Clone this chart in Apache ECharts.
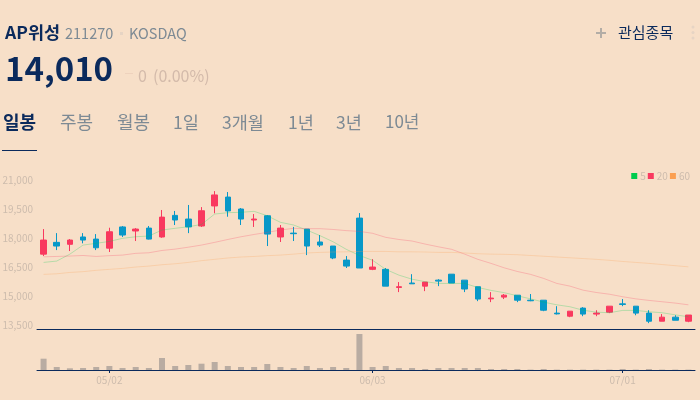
<!DOCTYPE html>
<html>
<head>
<meta charset="utf-8">
<style>
	html, body { margin: 0; padding: 0; background: #f7dfc8; }
	#chart { width: 700px; height: 400px; }
</style>
<script src="https://cdn.jsdelivr.net/npm/echarts@6/dist/echarts.min.js"></script>
</head>
<body>
<div id="chart"></div>
<script>
const dates = [
	'04/24', '04/25', '04/26', '04/29', '04/30', '05/02', '05/03', '05/07', '05/08', '05/09',
	'05/10', '05/13', '05/14', '05/16', '05/17', '05/20', '05/21', '05/22', '05/23', '05/24',
	'05/27', '05/28', '05/29', '05/30', '05/31', '06/03', '06/04', '06/05', '06/07', '06/10',
	'06/11', '06/12', '06/13', '06/14', '06/17', '06/18', '06/19', '06/20', '06/21', '06/24',
	'06/25', '06/26', '06/27', '06/28', '07/01', '07/02', '07/03', '07/04', '07/05', '07/08',
]
const dateTicks = ['05/02', '06/03', '07/01']
const priceTicks = [13500, 15000, 16500, 18000, 19500, 21000]

const opens = [
	17170, 17780, 17680, 18060, 17950, 17480, 18580, 18370, 18520, 18060,
	19180, 18990, 18630, 19670, 20130, 19510, 18940, 19160, 18060, 18260,
	18470, 17800, 17590, 16860, 19040, 16380, 16380, 15440, 15670, 15510,
	15820, 16130, 15820, 15480, 14850, 14940, 15040, 14780, 14780, 14110,
	13950, 14370, 14060, 14160, 14590, 14470, 14110, 13690, 13900, 13690,
]
const closes = [
	17900, 17590, 17900, 17900, 17500, 18330, 18160, 18470, 17950, 19090,
	18940, 18580, 19420, 20240, 19410, 18990, 18990, 18210, 18520, 18230,
	17590, 17640, 16970, 16550, 16450, 16500, 15510, 15480, 15630, 15720,
	15770, 15670, 15360, 14840, 14890, 15040, 14780, 14750, 14260, 14070,
	14210, 14060, 14110, 14470, 14560, 14110, 13690, 13900, 13740, 14010,
]
const lows = [
	17070, 17380, 17330, 17730, 17380, 17280, 18060, 17850, 17930, 18020,
	18680, 18260, 18580, 19290, 19110, 18680, 18580, 17590, 17800, 17850,
	17120, 17540, 16910, 16450, 16450, 16340, 15510, 15200, 15620, 15250,
	15510, 15670, 15200, 14730, 14680, 14840, 14680, 14730, 14210, 14040,
	13900, 13950, 13950, 14110, 14470, 14000, 13590, 13690, 13740, 13640,
]
const highs = [
	18470, 18260, 17950, 18260, 18210, 18540, 18630, 18520, 18630, 19460,
	19410, 19720, 19610, 20440, 20390, 19560, 19250, 19200, 18680, 18580,
	18470, 18160, 17590, 17070, 19300, 16910, 16450, 15720, 16130, 15720,
	15870, 16130, 15820, 15480, 15200, 15100, 15040, 15100, 14780, 14470,
	14210, 14420, 14260, 14470, 14840, 14470, 14260, 14060, 14000, 14010,
]
const ma5 = [
	16740, 16810, 17170, 17640, 17730, 17830, 17990, 18070, 18110, 18420,
	18510, 18590, 18710, 19250, 19320, 19340, 19390, 19160, 18820, 18680,
	18420, 18130, 17810, 17420, 17100, 16850, 16380, 16080, 15870, 15740,
	15650, 15650, 15650, 15440, 15290, 15170, 15010, 14850, 14680, 14540,
	14440, 14260, 14160, 14130, 14250, 14250, 14180, 14130, 14020, 13920,
]
const ma20 = [
	17030, 17050, 17070, 17100, 17050, 17090, 17120, 17210, 17240, 17360,
	17430, 17530, 17640, 17780, 17930, 18070, 18190, 18300, 18420, 18510,
	18490, 18490, 18450, 18390, 18350, 18250, 18040, 17930, 17850, 17690,
	17550, 17420, 17170, 16900, 16690, 16460, 16270, 16120, 15910, 15650,
	15510, 15300, 15180, 15090, 14960, 14850, 14770, 14700, 14630, 14540,
]
const ma60 = [
	16120, 16150, 16220, 16260, 16330, 16380, 16430, 16500, 16550, 16620,
	16670, 16740, 16830, 16900, 16970, 17020, 17050, 17090, 17120, 17170,
	17230, 17260, 17280, 17290, 17310, 17310, 17310, 17290, 17290, 17280,
	17260, 17260, 17230, 17190, 17170, 17160, 17140, 17100, 17060, 17020,
	16980, 16940, 16900, 16850, 16790, 16740, 16690, 16630, 16570, 16510,
]
const volumes = [
	113, 30, 17, 20, 30, 40, 20, 30, 20, 120,
	40, 50, 63, 80, 40, 30, 30, 60, 30, 20,
	40, 20, 30, 20, 360, 30, 40, 20, 20, 10,
	20, 20, 20, 20, 10, 10, 10, 4, 10, 4,
	4, 4, 4, 4, 10, 4, 10, 4, 4, 4,
]

const navy = '#0b2a5c'
const faint = '#cdbcad'
const tabGrey = '#7d8a94'
const uiFont = '"Noto Sans CJK KR", "Noto Sans", sans-serif'

const label = (text, x, y, size, fill, weight = 'normal') => ({
	type: 'text',
	x,
	y,
	silent: true,
	style: { text, fill, font: `${weight} ${size}px ${uiFont}`, textVerticalAlign: 'middle' },
})

const box = (x, y, width, height, fill) => ({
	type: 'rect',
	silent: true,
	shape: { x, y, width, height },
	style: { fill },
})

const dot = (cx, cy) => ({
	type: 'circle',
	silent: true,
	shape: { cx, cy, r: 1.5 },
	style: { fill: '#e6d4c4' },
})

const header = [
	label('AP위성', 5, 32, 17.5, navy, 'bold'),
	label('211270', 65, 33, 14.5, tabGrey),
	box(120, 32, 3, 3, '#e6d4c4'),
	label('KOSDAQ', 129, 33, 14.5, tabGrey),
	label('14,010', 5, 68, 33, navy, 'bold'),
	box(125, 73, 8, 1, '#eed2bd'),
	label('0', 138, 76, 16, '#d3baaa'),
	label('(0.00%)', 153, 76, 16, '#d3baaa'),
	label('일봉', 3, 122, 18, navy, 'bold'),
	label('주봉', 60, 122, 18, tabGrey),
	label('월봉', 117, 122, 18, tabGrey),
	label('1일', 173, 122, 17.5, tabGrey),
	label('3개월', 222, 122, 17.5, tabGrey),
	label('1년', 288, 122, 17.5, tabGrey),
	label('3년', 336, 122, 17.5, tabGrey),
	label('10년', 385, 122, 17, tabGrey),
	box(596, 32, 10, 2, '#b3ada6'),
	box(600, 28, 2, 10, '#b3ada6'),
	label('관심종목', 618, 32, 15, navy),
	dot(693, 27),
	dot(693, 32.5),
	dot(693, 38),
	box(2, 150, 35, 1, navy),
]

const maLine = (name, data, color) => ({
	name,
	type: 'line',
	data,
	symbol: 'none',
	smooth: false,
	itemStyle: { color },
	lineStyle: { color, width: 1, opacity: 0.26 },
})

const myChart = echarts.init(document.getElementById('chart'))

const option = {
	animation: false,
	backgroundColor: '#f7dfc8',
	textStyle: { fontFamily: uiFont },
	graphic: header,
	legend: {
		top: 166,
		right: 5,
		itemWidth: 6,
		itemHeight: 6,
		itemGap: 2,
		icon: 'rect',
		data: ['5', '20', '60'],
		textStyle: { color: faint, fontSize: 10, padding: [0, 0, 0, -2] },
	},
	grid: [
		{ left: 37, right: 5, top: 180.3, height: 149.2, outerBoundsMode: 'none' },
		{ left: 37, right: 5, top: 329.5, height: 40.5, outerBoundsMode: 'none' },
	],
	xAxis: [
		{
			type: 'category',
			gridIndex: 0,
			data: dates,
			axisLine: { lineStyle: { color: navy, width: 1 } },
			axisTick: { show: false },
			axisLabel: { show: false },
		},
		{
			type: 'category',
			gridIndex: 1,
			data: dates,
			axisLine: { lineStyle: { color: navy, width: 1 } },
			axisTick: {
				show: true,
				alignWithLabel: true,
				length: 3,
				lineStyle: { color: navy },
				customValues: dateTicks.map((d) => dates.indexOf(d)),
			},
			axisLabel: {
				color: faint,
				fontSize: 10,
				margin: 5,
				interval: (i, v) => dateTicks.includes(v),
			},
		},
	],
	yAxis: [
		{
			type: 'value',
			gridIndex: 0,
			min: 13260,
			max: 21000,
			axisLine: { show: false },
			axisTick: { show: false },
			splitLine: { show: false },
			axisLabel: {
				color: faint,
				fontSize: 10,
				margin: 4,
				customValues: priceTicks,
				formatter: (v) => v.toLocaleString('en-US'),
			},
		},
		{
			type: 'value',
			gridIndex: 1,
			min: 0,
			max: 405,
			show: false,
		},
	],
	series: [
		{
			name: 'price',
			type: 'candlestick',
			xAxisIndex: 0,
			yAxisIndex: 0,
			barWidth: 6,
			data: dates.map((d, i) => [opens[i], closes[i], lows[i], highs[i]]),
			itemStyle: {
				color: '#f9395f',
				color0: '#0898c8',
				borderColor: '#f9395f',
				borderColor0: '#0898c8',
				borderWidth: 1,
			},
		},
		maLine('5', ma5, '#00cc4e'),
		maLine('20', ma20, '#f9395f'),
		maLine('60', ma60, '#fb9f50'),
		{
			name: 'volume',
			type: 'bar',
			xAxisIndex: 1,
			yAxisIndex: 1,
			barWidth: 6,
			data: volumes,
			itemStyle: { color: '#b9aca2' },
		},
	],
}
myChart.setOption(option)

window.addEventListener('resize', () => {
	myChart.resize()
})
</script>
</body>
</html>
